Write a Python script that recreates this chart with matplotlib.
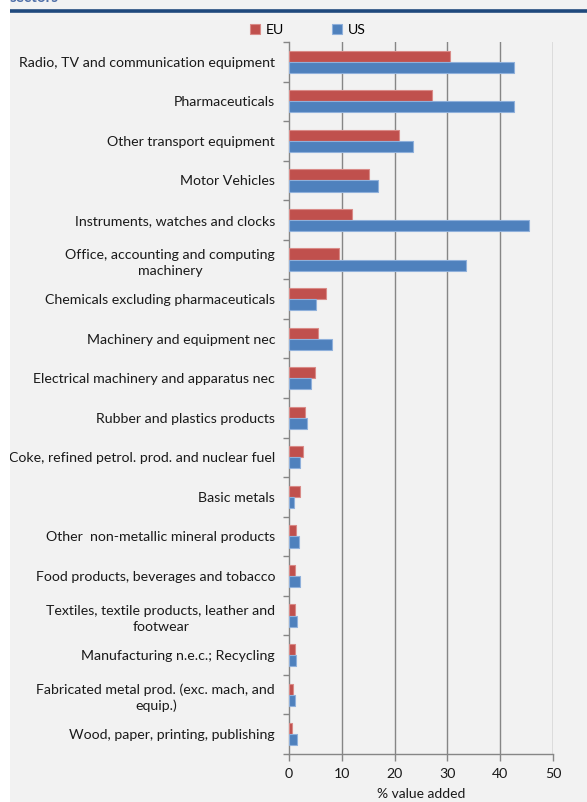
import numpy as np
import matplotlib.pyplot as plt
from matplotlib.patches import Rectangle
from matplotlib.lines import Line2D

sectors = [
    "Radio, TV and communication equipment",
    "Pharmaceuticals",
    "Other transport equipment",
    "Motor Vehicles",
    "Instruments, watches and clocks",
    "Office, accounting and computing\nmachinery",
    "Chemicals excluding pharmaceuticals",
    "Machinery and equipment nec",
    "Electrical machinery and apparatus nec",
    "Rubber and plastics products",
    "Coke, refined petrol. prod. and nuclear fuel",
    "Basic metals",
    "Other  non-metallic mineral products",
    "Food products, beverages and tobacco",
    "Textiles, textile products, leather and\nfootwear",
    "Manufacturing n.e.c.; Recycling",
    "Fabricated metal prod. (exc. mach, and\nequip.)",
    "Wood, paper, printing, publishing",
]
eu = [30.4, 27.1, 20.8, 15.2, 12.0, 9.4, 7.1, 5.4, 5.0, 3.1, 2.7, 2.0, 1.3, 1.1, 1.1, 1.1, 0.8, 0.5]
us = [42.7, 42.6, 23.5, 16.9, 45.5, 33.6, 5.1, 8.2, 4.1, 3.4, 2.0, 1.0, 1.8, 2.0, 1.5, 1.3, 1.1, 1.5]

red = "#c0504d"
blue = "#4f81bd"
bg = "#f2f2f2"
grid_col = "#868686"

plt.rcParams["font.family"] = ["Lato", "DejaVu Sans"]

fig = plt.figure(figsize=(5.87, 8.02), dpi=100, facecolor=bg)

# white margin strip on the left and heading rule
fig.patches.append(Rectangle((0, 0), 10 / 587, 1, transform=fig.transFigure,
                             facecolor="white", edgecolor="none", zorder=0))
fig.lines.append(Line2D([10 / 587, 1], [1 - 10.8 / 802] * 2, transform=fig.transFigure,
                        color="#1f497d", lw=2.6, solid_capstyle="butt"))
fig.text(10 / 587, 1 - 2.5 / 802, "sectors", color="#4f6fa8", fontsize=11,
         fontweight="bold", ha="left", va="baseline")

ax = fig.add_axes([289 / 587, 1 - 754 / 802, 264 / 587, 712 / 802])
ax.set_facecolor(bg)

y = np.arange(len(sectors))
h = 0.28
ax.barh(y - h / 2, eu, height=h, color=red, edgecolor="#d98a87", linewidth=0.8,
        label="EU", zorder=3)
ax.barh(y + h / 2, us, height=h, color=blue, edgecolor="#8fb0db", linewidth=0.8,
        label="US", zorder=3)

ax.set_ylim(len(sectors) - 0.5, -0.5)
ax.set_xlim(0, 50)
ax.set_xticks(np.arange(0, 51, 10))
ax.set_yticks(y)
ax.set_yticklabels(sectors, fontsize=10.2, color="#1a1a1a")
for lbl in ax.get_yticklabels():
    lbl.set_multialignment("center")
    lbl.set_linespacing(1.4)
ax.set_yticks(np.arange(-0.5, len(sectors)), minor=True)
ax.tick_params(axis="y", which="major", length=0, pad=10)
ax.tick_params(axis="y", which="minor", length=4, color=grid_col, width=1)
ax.tick_params(axis="x", length=5, color=grid_col, width=1, labelsize=10.2,
               labelcolor="#1a1a1a", pad=5)

for x in range(10, 51, 10):
    ax.axvline(x, color=grid_col, lw=1, zorder=1)

for side in ["top", "right"]:
    ax.spines[side].set_visible(False)
for side in ["left", "bottom"]:
    ax.spines[side].set_color(grid_col)
    ax.spines[side].set_linewidth(1)

ax.set_xlabel("% value added", fontsize=10, color="#1a1a1a", labelpad=6)

ax.legend(loc="lower left", bbox_to_anchor=(250 / 587, 1 - 36 / 802),
          bbox_transform=fig.transFigure, ncol=2, frameon=False, fontsize=10.2,
          handlelength=0.7, handleheight=0.7, handletextpad=0.4, columnspacing=3.4,
          borderpad=0, borderaxespad=0)

fig.savefig("out.png", dpi=100, facecolor=bg)
